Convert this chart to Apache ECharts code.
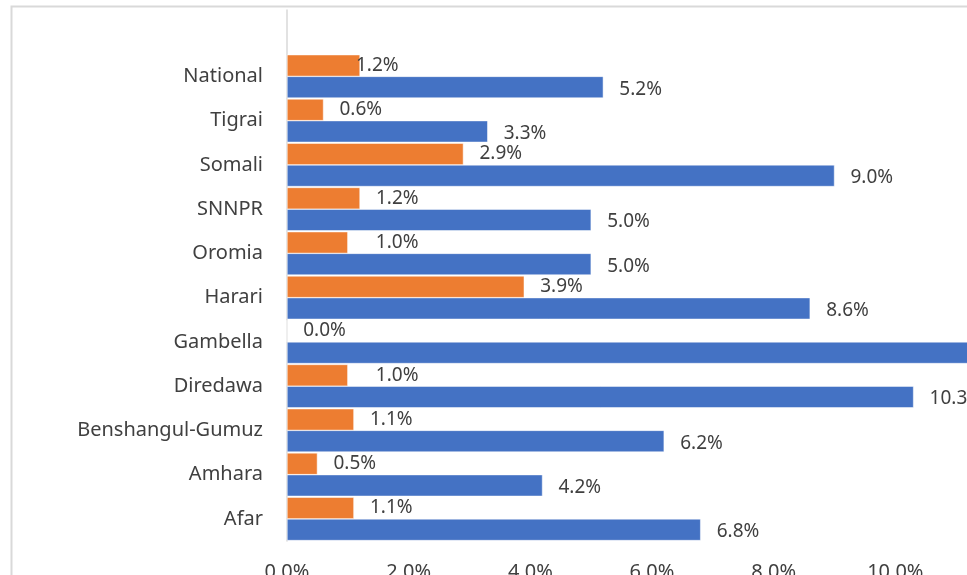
<!DOCTYPE html>
<html>
<head>
<meta charset="utf-8">
<script src="https://cdn.jsdelivr.net/npm/echarts@6/dist/echarts.min.js"></script>
<style>
  html, body { margin: 0; padding: 0; background: #fff; }
  #chart { width: 967px; height: 575px; }
</style>
</head>
<body>
<div id="chart"></div>
<script>
// categories, bottom to top (as on the category axis)
var regions = ['Afar', 'Amhara', 'Benshangul-Gumuz', 'Diredawa', 'Gambella', 'Harari',
               'Oromia', 'SNNPR', 'Somali', 'Tigrai', 'National'];
// orange series (upper bar in each group)
var orangeValues = [1.1, 0.5, 1.1, 1.0, 0.0, 3.9, 1.0, 1.2, 2.9, 0.6, 1.2];
// blue series (lower bar in each group)
var blueValues = [6.8, 4.2, 6.2, 10.3, 11.5, 8.6, 5.0, 5.0, 9.0, 3.3, 5.2];
var xTicks = [0, 2, 4, 6, 8, 10, 12];

var chartDom = document.getElementById('chart');
var myChart = echarts.init(chartDom);

var textColor = '#404040';
var fontFamily = 'Noto Sans';

function pct(v) {
  return Number(v).toFixed(1) + '%';
}

//个别橙色标签在原图中被手动挪过位置
var orangeLabelShift = { 'National': -20, 'Oromia': 12, 'Diredawa': 12 };

var orangeData = orangeValues.map(function (v, i) {
  var shift = orangeLabelShift[regions[i]];
  if (shift === undefined) return v;
  return { value: v, label: { offset: [shift, 0] } };
});

var option = {
  animation: false,
  //Excel 图表外框
  graphic: [{
    type: 'rect',
    shape: { x: 11.5, y: 6.5, width: 1200, height: 1200 },
    style: { fill: 'none', stroke: '#d9d9d9', lineWidth: 2 },
    silent: true
  }],
  grid: {
    left: 287,
    top: 10,
    width: 730,
    height: 531,
    containLabel: false,
    outerBoundsMode: 'none'
  },
  xAxis: {
    type: 'value',
    min: xTicks[0],
    max: xTicks[xTicks.length - 1],
    interval: 2,
    splitLine: { show: false },
    axisLine: { show: false },
    axisTick: { show: false },
    axisLabel: {
      formatter: pct,
      color: textColor,
      fontSize: 20,
      fontFamily: fontFamily,
      margin: 21
    }
  },
  yAxis: {
    type: 'category',
    data: regions,
    // one empty band above "National"
    max: regions.length,
    axisLine: { show: true, lineStyle: { color: '#d9d9d9', width: 1.5 } },
    axisTick: { show: false },
    axisLabel: {
      color: textColor,
      fontSize: 20,
      fontFamily: fontFamily,
      margin: 24
    }
  },
  series: [
    {
      name: 'Orange',
      type: 'bar',
      data: orangeData,
      barGap: '0%',
      barCategoryGap: '2%',
      itemStyle: { color: '#ED7D31', borderColor: '#fff', borderWidth: 0.5 },
      label: {
        show: true,
        position: 'right',
        distance: 16,
        formatter: function (p) { return pct(p.value); },
        color: textColor,
        fontSize: 19,
        fontFamily: fontFamily
      }
    },
    {
      name: 'Blue',
      type: 'bar',
      data: blueValues,
      barGap: '0%',
      barCategoryGap: '2%',
      itemStyle: { color: '#4472C4', borderColor: '#fff', borderWidth: 0.5 },
      label: {
        show: true,
        position: 'right',
        distance: 16,
        offset: [0, 2],
        formatter: function (p) { return pct(p.value); },
        color: textColor,
        fontSize: 19,
        fontFamily: fontFamily
      }
    }
  ]
};
option && myChart.setOption(option);
</script>
</body>
</html>
